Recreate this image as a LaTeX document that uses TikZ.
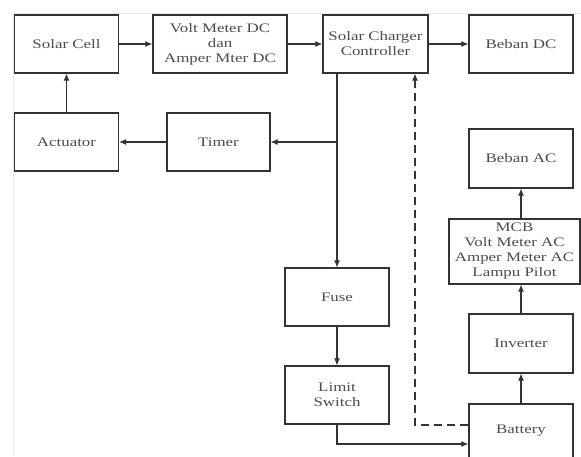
\documentclass[tikz,border=0pt]{standalone}
\usepackage{fontspec}
\setmainfont[FakeStretch=1.3]{Liberation Serif}
\usetikzlibrary{arrows.meta,positioning}
\tikzset{blok/.style={draw=black!80, line width=1.1pt, text=black!70, inner sep=0pt, align=center,
    minimum width=104pt, minimum height=58pt, font=\rmfamily\fontsize{13}{15}\selectfont},
  panah/.style={draw=black!80, line width=1.1pt, -{Latex[length=7pt,width=6pt]}}}

\begin{document}
\begin{tikzpicture}[x=1pt, y=-1pt]
\useasboundingbox (0,0) rectangle (581,456);
\draw[color={rgb,255:red,238;green,232;blue,218}, line width=1pt] (13,456) -- (13,13) -- (581,13);
% baris atas
\node[blok] (solar) at (66.5,44) {Solar Cell};
\node[blok, minimum width=134pt] (volt) at (220,44) {Volt Meter DC\\dan\\Amper Mter DC};
\node[blok, minimum width=105pt] (scc) at (375.5,44) {Solar Charger\\Controller};
\node[blok] (bebandc) at (521,44) {Beban DC};
\node[blok] (actuator) at (66.5,142) {Actuator};
\node[blok, minimum width=103pt] (timer) at (218.5,142) {Timer};
% cabang bawah
\node[blok] (fuse) at (337,297) {Fuse};
\node[blok] (limit) at (337,395) {Limit\\Switch};
\node[blok, minimum height=54pt] (battery) at (521,431) {Battery};
\node[blok, minimum height=59pt] (inverter) at (521,343.5) {Inverter};
\node[blok, minimum width=131pt, minimum height=65pt] (mcb) at (514.5,251.5) {MCB\\Volt Meter AC\\Amper Meter AC\\Lampu Pilot};
\node[blok, minimum height=59pt] (bebanac) at (521,158.5) {Beban AC};
\coordinate (cabang) at (fuse.north |- timer.east);
\coordinate (sccin) at ([xshift=39.5pt]scc.south);
% panah
\draw[panah] (solar) -- (volt);
\draw[panah] (volt) -- (scc);
\draw[panah] (scc) -- (bebandc);
\draw[panah] (actuator) -- (solar);
\draw[panah] (timer) -- (actuator);
\draw[panah] (scc.south -| fuse.north) -- (fuse);
\draw[panah] (cabang) -- (timer);
\draw[panah] (fuse) -- (limit);
\draw[panah] (limit.south) |- ([yshift=-13pt]battery.west);
\draw[panah, dash pattern=on 8pt off 5pt] ([yshift=6pt]battery.west) -| (sccin);
\draw[panah] (battery.north) -- (inverter.south);
\draw[panah] (inverter.north) -- (inverter.north |- mcb.south);
\draw[panah] (bebanac.south |- mcb.north) -- (bebanac.south);
\end{tikzpicture}
\end{document}
